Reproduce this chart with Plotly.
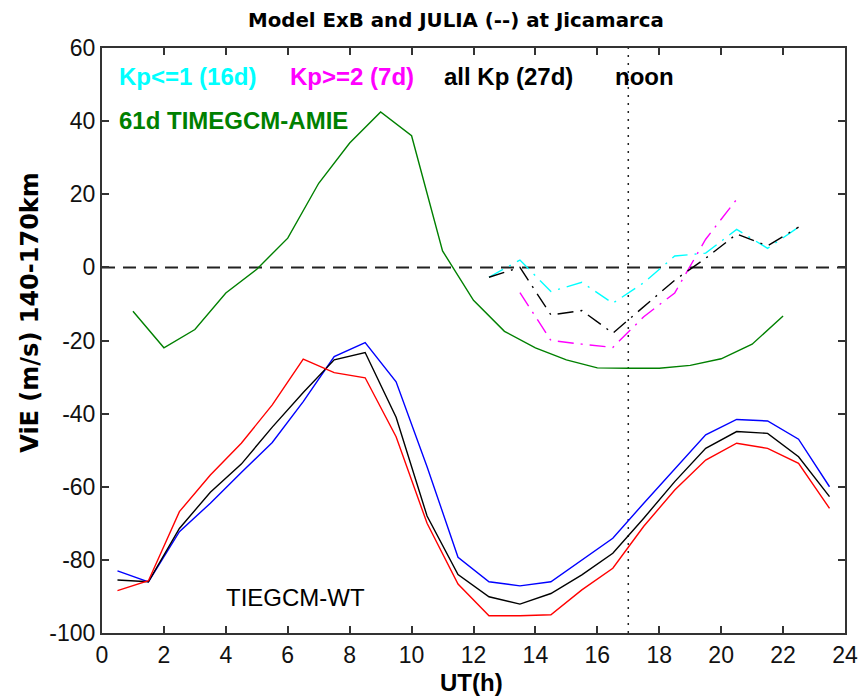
import plotly.graph_objects as go

# ---- data ----
ut_half = [0.5, 1.5, 2.5, 3.5, 4.5, 5.5, 6.5, 7.5, 8.5, 9.5, 10.5, 11.5,
           12.5, 13.5, 14.5, 15.5, 16.5, 17.5, 18.5, 19.5, 20.5, 21.5, 22.5, 23.5]
wt_blue = [-83.0, -86.0, -72.3, -64.5, -56.1, -47.9, -36.7, -24.4, -20.6, -31.3, -54.5, -79.3,
           -86.0, -87.1, -86.0, -80.0, -74.1, -64.5, -55.0, -45.8, -41.6, -42.0, -47.0, -60.0]
wt_black = [-85.5, -86.0, -71.4, -61.5, -53.8, -43.7, -34.2, -25.3, -23.3, -41.0, -68.0, -84.0,
            -90.1, -92.1, -89.2, -84.1, -78.2, -68.6, -58.6, -49.5, -44.9, -45.4, -51.8, -62.7]
wt_red = [-88.4, -85.7, -66.8, -56.8, -48.1, -37.6, -25.1, -28.8, -30.2, -46.3, -70.0, -86.6,
          -95.3, -95.3, -95.0, -88.2, -82.3, -70.8, -60.9, -52.7, -48.1, -49.5, -53.6, -65.9]

ut_amie = [1, 2, 3, 4, 5, 6, 7, 8, 9, 10, 11, 12, 13, 14, 15, 16, 17, 18, 19, 20, 21, 22]
amie = [-12.0, -22.0, -17.0, -7.0, -0.5, 8.0, 23.0, 34.0, 42.5, 36.0, 4.5, -9.0,
        -17.5, -22.0, -25.3, -27.5, -27.6, -27.6, -26.8, -25.0, -21.0, -13.3]

ut_julia = [12.5, 13.5, 14.5, 15.5, 16.5, 17.5, 18.5, 19.5, 20.5, 21.5, 22.5]
julia_lowkp = [-2.7, 2.0, -6.6, -4.1, -9.8, -4.2, 3.1, 3.9, 10.4, 5.2, 11.0]
julia_allkp = [-2.7, 0.0, -13.0, -11.8, -18.0, -10.7, -3.5, 2.5, 9.1, 5.9, 11.0]
ut_julia_hi = [13.5, 14.5, 15.5, 16.5, 17.5, 18.5, 19.5, 20.5]
julia_highkp = [-6.9, -20.0, -21.0, -21.9, -13.5, -7.0, 7.7, 18.6]

zero_x = [0, 24]
zero_y = [0, 0]
noon_x = [17, 17]
noon_y = [-100, 60]

xticks = [0, 2, 4, 6, 8, 10, 12, 14, 16, 18, 20, 22, 24]
yticks = [-100, -80, -60, -40, -20, 0, 20, 40, 60]

FONT = "Liberation Sans, Arial, Helvetica, sans-serif"
WIDE = "DejaVu Sans, Verdana, sans-serif"
GREEN = "#008000"
JDASH = "16px,7px,2px,7px"

fig = go.Figure()
fig.add_trace(go.Scatter(x=zero_x, y=zero_y, mode="lines",
                         line=dict(color="#222222", width=2, dash="13px,8px")))
fig.add_trace(go.Scatter(x=noon_x, y=noon_y, mode="lines",
                         line=dict(color="#222222", width=1.5, dash="2px,6px")))
fig.add_trace(go.Scatter(x=ut_amie, y=amie, mode="lines", line=dict(color=GREEN, width=1.4)))
fig.add_trace(go.Scatter(x=ut_half, y=wt_blue, mode="lines", line=dict(color="#0000ff", width=1.4)))
fig.add_trace(go.Scatter(x=ut_half, y=wt_black, mode="lines", line=dict(color="#000000", width=1.4)))
fig.add_trace(go.Scatter(x=ut_half, y=wt_red, mode="lines", line=dict(color="#ff0000", width=1.4)))
fig.add_trace(go.Scatter(x=ut_julia, y=julia_lowkp, mode="lines",
                         line=dict(color="#00ffff", width=1.4, dash=JDASH)))
fig.add_trace(go.Scatter(x=ut_julia_hi, y=julia_highkp, mode="lines",
                         line=dict(color="#ff00ff", width=1.4, dash=JDASH)))
fig.add_trace(go.Scatter(x=ut_julia, y=julia_allkp, mode="lines",
                         line=dict(color="#000000", width=1.4, dash=JDASH)))

ann = []
def txt(x, y, s, color, size, bold=False, xref="x", yref="y", xanchor="left", angle=0, family=FONT):
    ann.append(dict(x=x, y=y, xref=xref, yref=yref, text=f"<b>{s}</b>" if bold else s,
                    showarrow=False, xanchor=xanchor, yanchor="middle", textangle=angle,
                    font=dict(family=family, size=size, color=color)))

txt(0.48, 52.1, "Kp&lt;=1 (16d)", "#00ffff", 24, bold=True)
txt(6.0, 52.1, "Kp&gt;=2 (7d)", "#ff00ff", 24, bold=True)
txt(10.99, 52.1, "all Kp (27d)", "#000000", 24, bold=True)
txt(16.5, 52.1, "noon", "#000000", 24, bold=True)
txt(0.48, 40.3, "61d TIMEGCM-AMIE", GREEN, 24, bold=True)
txt(3.94, -90.4, "TIEGCM-WT", "#000000", 24)
txt(0.476, 1.047, "Model ExB and JULIA (--) at Jicamarca", "#000000", 19.8, bold=True,
    xref="paper", yref="paper", xanchor="center", family=WIDE)
txt(0.497, -0.085, "UT(h)", "#000000", 24, bold=True, xref="paper", yref="paper", xanchor="center")
txt(-0.097, 0.549, "ViE (m/s) 140-170km", "#000000", 24, bold=True, xref="paper", yref="paper",
    xanchor="center", angle=-90, family=WIDE)

axis_common = dict(showline=True, linecolor="#333333", linewidth=2, mirror="ticks",
                   ticks="inside", ticklen=7, tickwidth=2, tickcolor="#333333",
                   showgrid=False, zeroline=False, automargin=False,
                   tickfont=dict(family=FONT, size=23, color="#111111"))

fig.update_layout(
    width=859, height=696,
    margin=dict(l=102, r=14, t=48, b=63),
    paper_bgcolor="white", plot_bgcolor="white",
    showlegend=False,
    annotations=ann,
    xaxis=dict(range=[0, 24], tickvals=xticks, ticktext=[str(v) for v in xticks], **axis_common),
    yaxis=dict(range=[-100, 60], tickvals=yticks, ticktext=[str(v) for v in yticks], **axis_common),
)

fig.write_html("out.html")
